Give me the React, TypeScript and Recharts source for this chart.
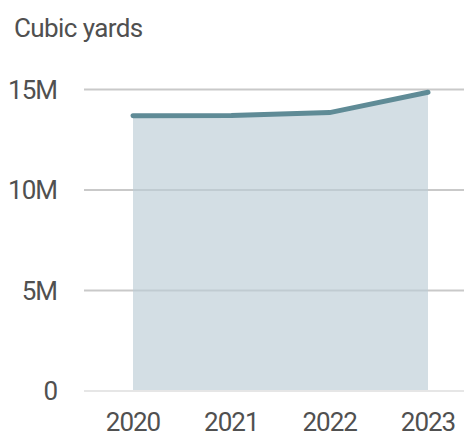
// Cubic yards by year — flat-ish area with a thick line on top.

import { Area, AreaChart, CartesianGrid, XAxis, YAxis } from "recharts";

const years = ["2020", "2021", "2022", "2023"];
const cubicYards = [13700000, 13710000, 13850000, 14860000];
const yTicks = [0, 5000000, 10000000, 15000000];

const data = years.map((year, i) => ({ year, value: cubicYards[i] }));

const fmt = (v: number) => (v === 0 ? "0" : `${v / 1000000}M`);

const font = "Roboto, 'Noto Sans', sans-serif";
const tick = { fontSize: 26, fill: "#505050", fontFamily: font, letterSpacing: -1 };

export default function App() {
  return (
    <div style={{ position: "absolute", left: 0, top: 0, width: 464, height: 437, background: "#fff" }}>
      <div
        style={{
          position: "absolute", left: 14, top: 13, fontFamily: font, fontSize: 26,
          color: "#505050", letterSpacing: -0.6, lineHeight: "30px",
        }}
      >
        Cubic yards
      </div>
      <AreaChart width={464} height={437} data={data} margin={{ top: 89.5, right: 0, left: 0, bottom: 0 }}>
        <CartesianGrid vertical={false} stroke="#c9c9c9" strokeWidth={2} />
        <XAxis
          dataKey="year"
          height={46}
          axisLine={{ stroke: "#e6e6e6", strokeWidth: 2 }}
          tickLine={false}
          tick={tick}
          tickMargin={16}
          padding={{ left: 49, right: 36 }}
        />
        <YAxis
          width={84}
          domain={[0, 15000000]}
          ticks={yTicks}
          tickFormatter={fmt}
          axisLine={false}
          tickLine={false}
          tick={tick}
          tickMargin={21}
        />
        <Area
          isAnimationActive={false}
          type="linear"
          dataKey="value"
          stroke="#5f8b96"
          strokeWidth={5}
          strokeLinecap="round"
          fill="#bccdd5"
          fillOpacity={0.65}
          dot={false}
          activeDot={false}
        />
      </AreaChart>
    </div>
  );
}
